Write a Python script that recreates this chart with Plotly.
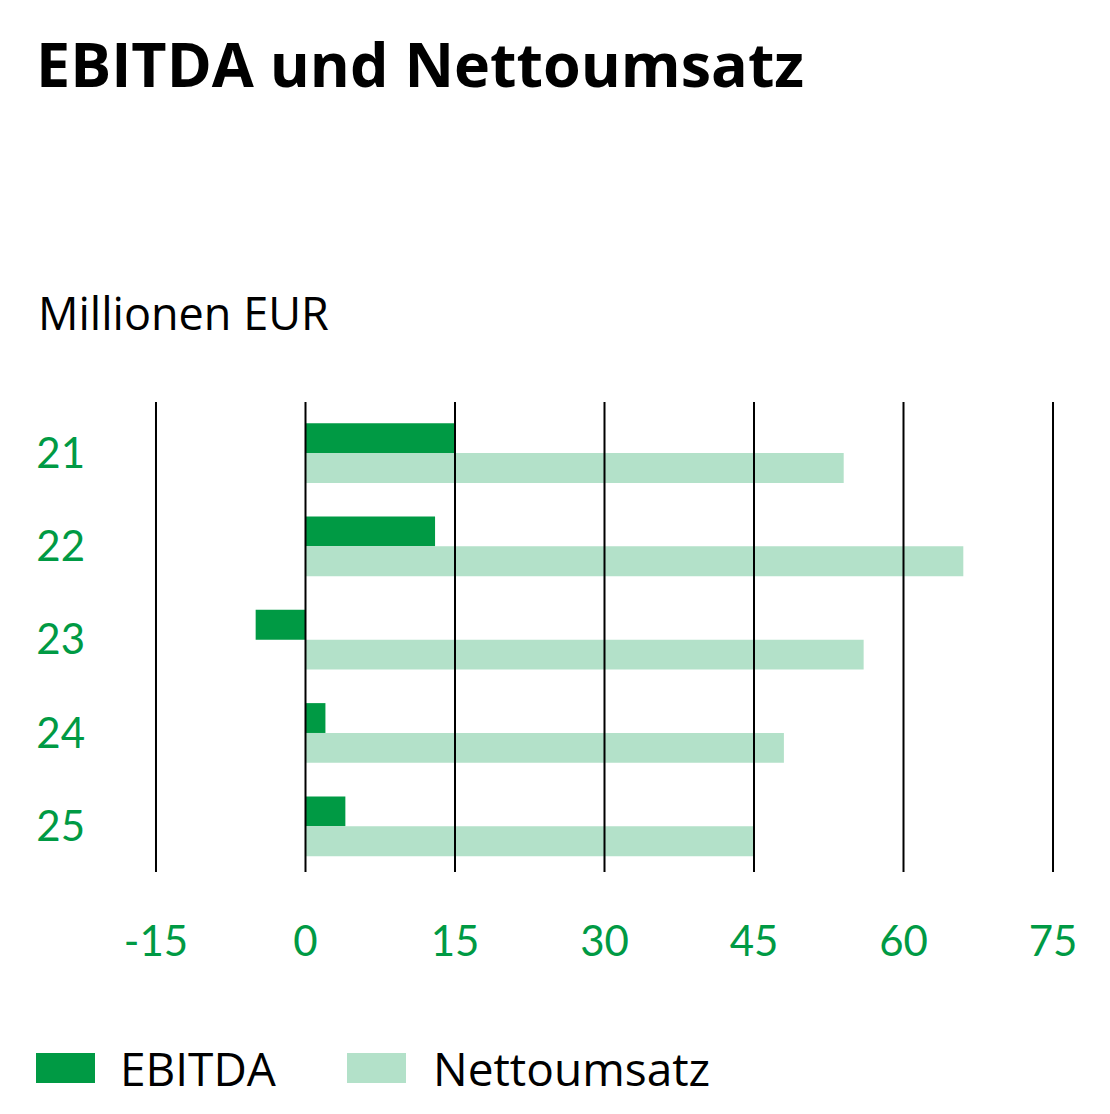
import plotly.graph_objects as go

years = ["21", "22", "23", "24", "25"]
ebitda = [15, 13, -5, 2, 4]
netto = [54, 66, 56, 48, 45]
x_ticks = [-15, 0, 15, 30, 45, 60, 75]

DARK = "#009A44"
LIGHT = "#B3E1C9"
NUMFONT = "Lato"
TXTFONT = "Open Sans"

fig = go.Figure()
fig.add_trace(go.Bar(y=years, x=ebitda, orientation="h", name="EBITDA",
                     marker=dict(color=DARK, line=dict(width=0)), showlegend=False))
fig.add_trace(go.Bar(y=years, x=netto, orientation="h", name="Nettoumsatz",
                     marker=dict(color=LIGHT, line=dict(width=0)), showlegend=False))

# vertical grid lines above bars, at tick values
for v in x_ticks:
    fig.add_shape(type="line", xref="x", yref="paper", x0=v, x1=v, y0=0, y1=1,
                  line=dict(color="black", width=2), layer="above")

OFF = 8  # page body margin
W, H = 1110, 1114
L, T = 154 - OFF, 402 - OFF
R = W - (1055 - OFF)
B = H - (872 - OFF)
pw, ph = W - L - R, H - T - B

def px(x):
    return (x - OFF - L) / pw

def py(y):
    return (H - B - (y - OFF)) / ph

# legend swatches and labels
legend_items = [("EBITDA", DARK, 36, 118), ("Nettoumsatz", LIGHT, 347, 431)]
for label, col, sx, tx in legend_items:
    fig.add_shape(type="rect", xref="paper", yref="paper",
                  x0=px(sx), x1=px(sx + 59), y0=py(1083), y1=py(1053),
                  fillcolor=col, line=dict(width=0))
    fig.add_annotation(xref="paper", yref="paper", x=px(tx), y=py(1068),
                       text=label, showarrow=False, xanchor="left", yanchor="middle",
                       font=dict(family=TXTFONT, size=46, color="black"))

fig.add_annotation(xref="paper", yref="paper", x=px(36), y=py(312),
                   text="Millionen EUR", showarrow=False, xanchor="left", yanchor="middle",
                   font=dict(family=TXTFONT, size=45, color="black"))

fig.update_layout(
    width=W, height=H,
    margin=dict(l=L, r=R, t=T, b=B),
    paper_bgcolor="white", plot_bgcolor="white",
    barmode="group", bargap=0.36, bargroupgap=0,
    title=dict(text="<b>EBITDA und Nettoumsatz</b>", x=(36 - OFF) / W, xanchor="left",
               xref="container", y=1 - (66 - OFF) / H, yanchor="middle", yref="container",
               font=dict(family=TXTFONT, size=61, color="black")),
    font=dict(family=NUMFONT, color=DARK),
)
fig.update_xaxes(range=[-15.2, 75.2], tickvals=x_ticks, ticktext=[str(v) for v in x_ticks],
                 showgrid=False, zeroline=False, showline=False, ticks="",
                 ticklabelstandoff=41,
                 tickfont=dict(family=NUMFONT, size=42, color=DARK))
fig.update_yaxes(type="category", categoryorder="array", categoryarray=years,
                 range=[4.49, -0.547], showgrid=False, zeroline=False, showline=False,
                 ticks="", ticklabelstandoff=68,
                 tickfont=dict(family=NUMFONT, size=42, color=DARK))

fig.write_html("out.html")
